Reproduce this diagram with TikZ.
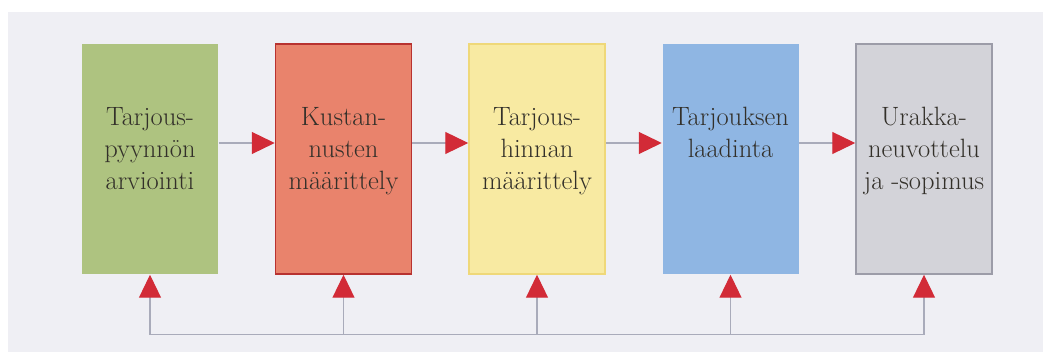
\documentclass[tikz,border=0pt]{standalone}
\usetikzlibrary{positioning,arrows.meta}

\definecolor{bgcol}{HTML}{EFEFF4}
\definecolor{boxgreen}{HTML}{AEC380}
\definecolor{boxred}{HTML}{E9836C}
\definecolor{edgered}{HTML}{B83230}
\definecolor{boxyellow}{HTML}{F8EAA2}
\definecolor{edgeyellow}{HTML}{EFD879}
\definecolor{boxblue}{HTML}{8FB6E3}
\definecolor{boxgrey}{HTML}{D3D3D9}
\definecolor{edgegrey}{HTML}{9C9CA8}
\definecolor{arrowred}{HTML}{D22B37}
\definecolor{linegrey}{HTML}{A9ABBA}
\definecolor{inkcol}{HTML}{33302A}

\begin{document}
\begin{tikzpicture}[x=1pt, y=1pt]
        \tikzstyle{phase}=[rectangle, inner sep=0pt, minimum width=136pt, minimum height=230pt, line width=1.5pt]
        \tikzstyle{txt}=[inner sep=0pt, align=center, text=inkcol, font=\fontsize{26.5}{32}\selectfont]
        \tikzstyle{flow}=[draw=linegrey, line width=1.2pt, -{Triangle[length=23pt, width=22pt, color=arrowred]}]

        \useasboundingbox (0,0) rectangle (1043,352);
        \fill[bgcol] (8,0) rectangle (1043,340);

        \node (b1)[phase, fill=boxgreen] at (150,193) {};
        \node (b2)[phase, fill=boxred, draw=edgered, right=56pt of b1] {};
        \node (b3)[phase, fill=boxyellow, draw=edgeyellow, right=56pt of b2] {};
        \node (b4)[phase, fill=boxblue, right=56pt of b3] {};
        \node (b5)[phase, fill=boxgrey, draw=edgegrey, right=56pt of b4] {};

        \node (t1)[txt, below=64pt of b1.north] {Tarjous-\\pyynnön\\arviointi};
        \node (t2)[txt, below=64pt of b2.north] {Kustan-\\nusten\\määrittely};
        \node (t3)[txt, below=64pt of b3.north] {Tarjous-\\hinnan\\määrittely};
        \node (t4)[txt, below=64pt of b4.north] {Tarjouksen\\laadinta};
        \node (t5)[txt, below=64pt of b5.north] {Urakka-\\neuvottelu\\ja -sopimus};

        \draw[flow] ([yshift=16pt]b1.east) -- ([yshift=16pt]b2.west);
        \draw[flow] ([yshift=16pt]b2.east) -- ([yshift=16pt]b3.west);
        \draw[flow] ([yshift=16pt]b3.east) -- ([yshift=16pt]b4.west);
        \draw[flow] ([yshift=16pt]b4.east) -- ([yshift=16pt]b5.west);

        % feedback line under the boxes
        \foreach \i in {1,...,5}
            \coordinate (f\i) at ([yshift=-60pt]b\i.south);
        \draw[draw=linegrey, line width=1.2pt] (f1) -- (f5);
        \foreach \i in {1,...,5}
            \draw[flow] (f\i) -- (b\i.south);
    \end{tikzpicture}
\end{document}
